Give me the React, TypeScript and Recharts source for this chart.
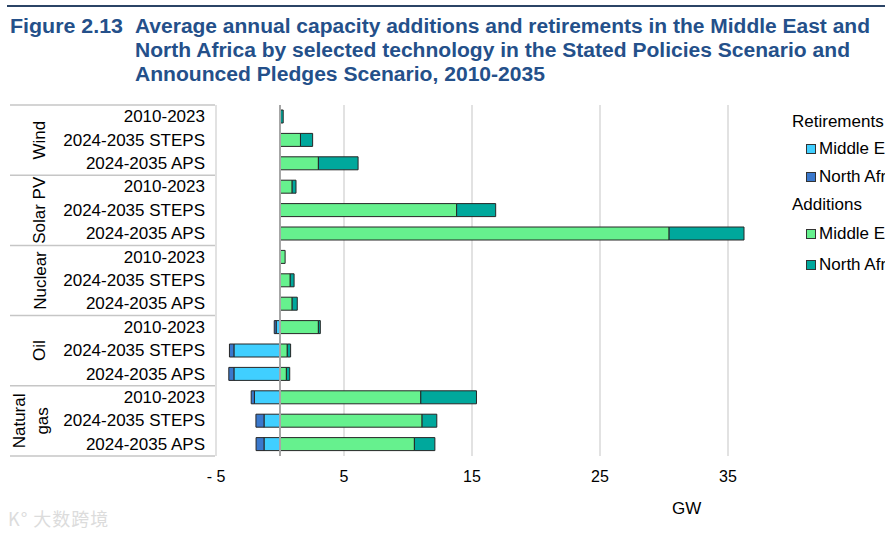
import React from "react";
import {
  BarChart,
  Bar,
  XAxis,
  YAxis,
  CartesianGrid,
  ReferenceLine,
} from "recharts";

const technologies = ["Wind", "Solar PV", "Nuclear", "Oil", "Natural gas"];
const techLines = [["Wind"], ["Solar PV"], ["Nuclear"], ["Oil"], ["Natural", "gas"]];
const periods = ["2010-2023", "2024-2035 STEPS", "2024-2035 APS"];

// GW per year, rows: tech x period
const retireMiddleEast = [0, 0, 0, 0, 0, 0, 0, 0, 0, -0.3, -3.6, -3.6, -2.0, -1.25, -1.25];
const retireNorthAfrica = [0, 0, 0, 0, 0, 0, 0, 0, 0, -0.15, -0.35, -0.4, -0.25, -0.63, -0.62];
const addMiddleEast = [0.05, 1.6, 3.0, 0.95, 13.8, 30.4, 0.4, 0.8, 0.95, 3.0, 0.57, 0.5, 11.0, 11.1, 10.5];
const addNorthAfrica = [0.2, 0.95, 3.1, 0.3, 3.05, 5.85, 0, 0.3, 0.4, 0.15, 0.26, 0.26, 4.35, 1.15, 1.6];

const xTicks = [-5, 5, 15, 25, 35];

const COLORS = {
  retME: "#40CFFF",
  retNA: "#3A78CC",
  addME: "#66F18E",
  addNA: "#00A89C",
};

const legendGroups = [
  {
    title: "Retirements",
    items: [
      { label: "Middle East", color: COLORS.retME },
      { label: "North Africa", color: COLORS.retNA },
    ],
  },
  {
    title: "Additions",
    items: [
      { label: "Middle East", color: COLORS.addME },
      { label: "North Africa", color: COLORS.addNA },
    ],
  },
];

const ids: string[] = [];
technologies.forEach((t) => periods.forEach((p) => ids.push(`${t}|${p}`)));

const data = ids.map((id, i) => ({
  id,
  retME: retireMiddleEast[i],
  retNA: retireNorthAfrica[i],
  addME: addMiddleEast[i],
  addNA: addNorthAfrica[i],
}));

const W = 885;
const H = 535;
const AXIS_W = 216;
const X_AXIS_H = 30;
const margin = { top: 105, right: 93, bottom: 79 - X_AXIS_H, left: 0 };
const plotH = H - 105 - 79;
const band = plotH / ids.length;
const FONT = "'Liberation Sans', Arial, sans-serif";
const TITLE_COLOR = "#24508a";

const RowTick = (props: any) => {
  const { y, payload } = props;
  const i = ids.indexOf(payload.value);
  if (i < 0) return null;
  const lines = techLines[Math.floor(i / 3)];
  const isFirst = i % 3 === 0;
  const cy = y + band;
  return (
    <g>
      <text
        x={205}
        y={y}
        textAnchor="end"
        dominantBaseline="central"
        fontSize={17}
        fontFamily={FONT}
        fill="#000"
      >
        {periods[i % 3]}
      </text>
      {isFirst && (
        <line x1={10} x2={215} y1={y - band / 2} y2={y - band / 2} stroke="#c6c6c6" strokeWidth={1.5} />
      )}
      {i === ids.length - 1 && (
        <line x1={10} x2={215} y1={y + band / 2} y2={y + band / 2} stroke="#c6c6c6" strokeWidth={1.5} />
      )}
      {isFirst &&
        lines.map((ln, k) => {
          const cx = 40 - (lines.length - 1) * 20 + k * 23;
          return (
            <text
              key={ln}
              x={cx}
              y={cy}
              transform={`rotate(-90 ${cx} ${cy})`}
              textAnchor="middle"
              dominantBaseline="central"
              fontSize={17}
              fontFamily={FONT}
              fill="#000"
            >
              {ln}
            </text>
          );
        })}
    </g>
  );
};

const XTick = (props: any) => {
  const { x, payload } = props;
  const v = payload.value;
  return (
    <text
      x={x}
      y={476}
      textAnchor="middle"
      dominantBaseline="central"
      fontSize={16}
      fontFamily={FONT}
      fill="#000"
    >
      {v < 0 ? `- ${Math.abs(v)}` : v}
    </text>
  );
};

const LegendBox = () => (
  <div
    style={{
      position: "absolute",
      left: 792,
      top: 108,
      fontFamily: FONT,
      fontSize: 17,
      color: "#000",
      whiteSpace: "nowrap",
    }}
  >
    {legendGroups.map((g, gi) => (
      <div key={g.title}>
        <div style={{ height: 27, lineHeight: "27px" }}>{g.title}</div>
        {g.items.map((it) => (
          <div
            key={g.title + it.label}
            style={{
              height: gi === 0 ? 28 : 31,
              paddingLeft: 14,
              display: "flex",
              alignItems: "center",
            }}
          >
            <span
              style={{
                display: "inline-block",
                width: 8,
                height: 8,
                background: it.color,
                border: "1px solid #333",
                marginRight: 3,
              }}
            />
            {it.label}
          </div>
        ))}
      </div>
    ))}
  </div>
);

export default function App() {
  return (
    <div
      style={{
        position: "absolute",
        left: 0,
        top: 0,
        width: W,
        height: H,
        overflow: "hidden",
        background: "#fff",
      }}
    >
      <svg width={W} height={100} style={{ position: "absolute", left: 0, top: 0 }}>
        <line x1={7} x2={W} y1={6} y2={6} stroke="#2b4466" strokeWidth={2} />
        <g fontFamily={FONT} fontWeight="bold" fontSize={19.5} fill={TITLE_COLOR}>
          <text x={10} y={33} textLength={113} lengthAdjust="spacingAndGlyphs">
            Figure 2.13
          </text>
          <text x={135} y={33} textLength={735} lengthAdjust="spacingAndGlyphs">
            Average annual capacity additions and retirements in the Middle East and
          </text>
          <text x={135} y={57} textLength={715} lengthAdjust="spacingAndGlyphs">
            North Africa by selected technology in the Stated Policies Scenario and
          </text>
          <text x={135} y={81} textLength={410} lengthAdjust="spacingAndGlyphs">
            Announced Pledges Scenario, 2010-2035
          </text>
        </g>
      </svg>
      <div style={{ position: "absolute", left: 0, top: 0 }}>
        <BarChart
          width={W}
          height={H}
          data={data}
          layout="vertical"
          stackOffset="sign"
          margin={margin}
          barSize={13}
        >
          <CartesianGrid
            horizontal={false}
            verticalValues={xTicks}
            stroke="#d9d9d9"
            strokeWidth={1.5}
          />
          <XAxis
            type="number"
            domain={[-5, 40]}
            ticks={xTicks}
            interval={0}
            height={X_AXIS_H}
            axisLine={false}
            tickLine={false}
            tick={<XTick />}
          />
          <YAxis
            type="category"
            dataKey="id"
            width={AXIS_W}
            interval={0}
            axisLine={false}
            tickLine={false}
            tick={<RowTick />}
          />
          <Bar dataKey="retME" stackId="a" fill={COLORS.retME} stroke="#262626" strokeWidth={1} isAnimationActive={false} />
          <Bar dataKey="retNA" stackId="a" fill={COLORS.retNA} stroke="#262626" strokeWidth={1} isAnimationActive={false} />
          <Bar dataKey="addME" stackId="a" fill={COLORS.addME} stroke="#262626" strokeWidth={1} isAnimationActive={false} />
          <Bar dataKey="addNA" stackId="a" fill={COLORS.addNA} stroke="#262626" strokeWidth={1} isAnimationActive={false} />
          <ReferenceLine x={0} stroke="#a6a6a6" strokeWidth={2} />
        </BarChart>
      </div>
      <LegendBox />
      <div
        style={{
          position: "absolute",
          left: 672,
          top: 499,
          fontFamily: FONT,
          fontSize: 17,
          color: "#000",
        }}
      >
        GW
      </div>
      <div
        style={{
          position: "absolute",
          left: 8,
          top: 505,
          fontFamily: "'Noto Sans CJK SC', sans-serif",
          fontSize: 18,
          color: "#dcdcdc",
          letterSpacing: 1,
        }}
      >
        K° 大数跨境
      </div>
    </div>
  );
}
